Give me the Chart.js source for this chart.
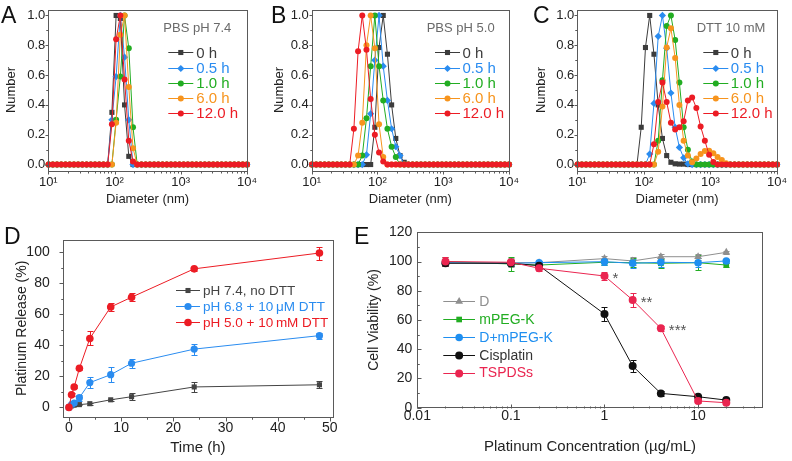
<!DOCTYPE html>
<html>
<head>
<meta charset="utf-8">
<script src="https://cdn.jsdelivr.net/npm/chart.js@4.4.1/dist/chart.umd.min.js"></script>
<style>
  html, body { margin: 0; padding: 0; background: #fff; }
  #fig { position: relative; width: 792px; height: 461px; overflow: hidden; font-family: "Liberation Sans", Arial, sans-serif; }
  canvas { position: absolute; }
  .tag { position: absolute; font-size: 23px; line-height: 1; color: #111; }
</style>
</head>
<body>
<div id="fig">
  <canvas id="cA" width="262" height="215" style="left:0;top:0"></canvas>
  <canvas id="cB" width="262" height="215" style="left:262px;top:0"></canvas>
  <canvas id="cC" width="268" height="215" style="left:524px;top:0"></canvas>
  <canvas id="cD" width="352" height="241" style="left:0;top:220px"></canvas>
  <canvas id="cE" width="440" height="241" style="left:352px;top:220px"></canvas>
  <div class="tag" style="left:1px;top:4px">A</div>
  <div class="tag" style="left:271px;top:4px">B</div>
  <div class="tag" style="left:533px;top:4px">C</div>
  <div class="tag" style="left:4px;top:225px">D</div>
  <div class="tag" style="left:354px;top:225px">E</div>
</div>
<script>
const colors = {
  h0: "#3c3c3c",
  h05: "#2a8cf0",
  h1: "#22ad22",
  h6: "#f7941d",
  h12: "#ec1c24",
  frame: "#5a5a5a",
  text: "#222222",
  note: "#6a6a6a",
  gray: "#8f8f8f",
  black: "#111111",
  pink: "#ea2550"
};

// DLS size bins (nm)
const diameters = [
  10.10, 11.70, 13.54, 15.69, 18.17, 21.04, 24.36, 28.21, 32.67, 37.84,
  43.82, 50.75, 58.77, 68.06, 78.82, 91.28, 105.7, 122.4, 141.8, 164.2,
  190.1, 220.2, 255.0, 295.3, 342.0, 396.1, 458.7, 531.2, 615.1, 712.4,
  825.0, 955.4, 1106, 1281, 1484, 1718, 1990, 2305, 2669, 3091,
  3580, 4145, 4801, 5560, 6439, 7456, 8635, 10000
];
const timeLabels = ["0 h", "0.5 h", "1.0 h", "6.0 h", "12.0 h"];
const numberTicks = [0, 0.2, 0.4, 0.6, 0.8, 1.0];
const numberTickLabels = ["0.0", "0.2", "0.4", "0.6", "0.8", "1.0"];
const diameterTicks = [10, 100, 1000, 10000];
const diameterTickLabels = ["10¹", "10²", "10³", "10⁴"];

// A - PBS pH 7.4
const a0h = [
  0, 0, 0, 0, 0, 0, 0, 0, 0, 0,
  0, 0, 0, 0, 0, 0.35, 1.0, 0.98, 0.40, 0.055,
  0, 0, 0, 0, 0, 0, 0, 0, 0, 0,
  0, 0, 0, 0, 0, 0, 0, 0, 0, 0,
  0, 0, 0, 0, 0, 0, 0, 0
];
const a05h = [
  0, 0, 0, 0, 0, 0, 0, 0, 0, 0,
  0, 0, 0, 0, 0, 0.30, 0.59, 1.0, 0.72, 0.30,
  0, 0, 0, 0, 0, 0, 0, 0, 0, 0,
  0, 0, 0, 0, 0, 0, 0, 0, 0, 0,
  0, 0, 0, 0, 0, 0, 0, 0
];
const a1h = [
  0, 0, 0, 0, 0, 0, 0, 0, 0, 0,
  0, 0, 0, 0, 0, 0, 0.30, 0.59, 1.0, 0.78,
  0.25, 0, 0, 0, 0, 0, 0, 0, 0, 0,
  0, 0, 0, 0, 0, 0, 0, 0, 0, 0,
  0, 0, 0, 0, 0, 0, 0, 0
];
const a6h = [
  0, 0, 0, 0, 0, 0, 0, 0, 0, 0,
  0, 0, 0, 0, 0, 0, 0.28, 0.87, 1.0, 0.52,
  0.11, 0, 0, 0, 0, 0, 0, 0, 0, 0,
  0, 0, 0, 0, 0, 0, 0, 0, 0, 0,
  0, 0, 0, 0, 0, 0, 0, 0
];
const a12h = [
  0, 0, 0, 0, 0, 0, 0, 0, 0, 0,
  0, 0, 0, 0, 0, 0.27, 0.84, 1.0, 0.57, 0.16,
  0.02, 0, 0, 0, 0, 0, 0, 0, 0, 0,
  0, 0, 0, 0, 0, 0, 0, 0, 0, 0,
  0, 0, 0, 0, 0, 0, 0, 0
];

// B - PBS pH 5.0
const b0h = [
  0, 0, 0, 0, 0, 0, 0, 0, 0, 0,
  0, 0, 0, 0, 0, 0.25, 0.785, 1.0, 0.74, 0.40,
  0.175, 0.06, 0.015, 0, 0, 0, 0, 0, 0, 0,
  0, 0, 0, 0, 0, 0, 0, 0, 0, 0,
  0, 0, 0, 0, 0, 0, 0, 0
];
const b05h = [
  0, 0, 0, 0, 0, 0, 0, 0, 0, 0,
  0, 0, 0, 0.065, 0.34, 0.70, 1.0, 0.66, 0.43, 0.24,
  0.12, 0.06, 0, 0, 0, 0, 0, 0, 0, 0,
  0, 0, 0, 0, 0, 0, 0, 0, 0, 0,
  0, 0, 0, 0, 0, 0, 0, 0
];
const b1h = [
  0, 0, 0, 0, 0, 0, 0, 0, 0, 0,
  0, 0, 0.06, 0.31, 0.66, 1.0, 0.66, 0.43, 0.24, 0.12,
  0.05, 0, 0, 0, 0, 0, 0, 0, 0, 0,
  0, 0, 0, 0, 0, 0, 0, 0, 0, 0,
  0, 0, 0, 0, 0, 0, 0, 0
];
const b6h = [
  0, 0, 0, 0, 0, 0, 0, 0, 0, 0,
  0, 0.06, 0.28, 0.80, 1.0, 0.78, 0.27, 0.05, 0, 0,
  0, 0, 0, 0, 0, 0, 0, 0, 0, 0,
  0, 0, 0, 0, 0, 0, 0, 0, 0, 0,
  0, 0, 0, 0, 0, 0, 0, 0
];
const b12h = [
  0, 0, 0, 0, 0, 0, 0, 0, 0, 0,
  0.24, 0.76, 1.0, 0.77, 0.44, 0.20, 0.08, 0.02, 0, 0,
  0, 0, 0, 0, 0, 0, 0, 0, 0, 0,
  0, 0, 0, 0, 0, 0, 0, 0, 0, 0,
  0, 0, 0, 0, 0, 0, 0, 0
];

// C - DTT 10 mM
const c0h = [
  0, 0, 0, 0, 0, 0, 0, 0, 0, 0,
  0, 0, 0, 0, 0, 0.25, 0.785, 1.0, 0.74, 0.40,
  0.175, 0.06, 0.015, 0.005, 0.003, 0.003, 0, 0, 0, 0,
  0, 0, 0, 0, 0, 0, 0, 0, 0, 0,
  0, 0, 0, 0, 0, 0, 0, 0
];
const c05h = [
  0, 0, 0, 0, 0, 0, 0, 0, 0, 0,
  0, 0, 0, 0, 0, 0, 0, 0.07, 0.41, 0.86,
  1.0, 0.78, 0.48, 0.25, 0.115, 0.045, 0.005, 0, 0, 0,
  0, 0, 0, 0, 0, 0, 0, 0, 0, 0,
  0, 0, 0, 0, 0, 0, 0, 0
];
const c1h = [
  0, 0, 0, 0, 0, 0, 0, 0, 0, 0,
  0, 0, 0, 0, 0, 0, 0, 0, 0, 0.16,
  0.565, 0.93, 1.0, 0.835, 0.55, 0.25, 0.10, 0.02, 0, 0,
  0, 0, 0, 0, 0, 0, 0, 0, 0, 0,
  0, 0, 0, 0, 0, 0, 0, 0
];
const c6h = [
  0, 0, 0, 0, 0, 0, 0, 0, 0, 0,
  0, 0, 0, 0, 0, 0, 0, 0, 0, 0.085,
  0.39, 0.785, 0.915, 0.715, 0.40, 0.16, 0.06, 0.015, 0.04, 0.07,
  0.09, 0.093, 0.075, 0.05, 0.03, 0.008, 0, 0, 0, 0,
  0, 0, 0, 0, 0, 0, 0, 0
];
const c12h = [
  0, 0, 0, 0, 0, 0, 0, 0, 0, 0,
  0, 0, 0, 0, 0, 0, 0, 0, 0.136, 0.42,
  0.55, 0.42, 0.28, 0.235, 0.25, 0.29, 0.43, 0.45, 0.38, 0.255,
  0.16, 0.065, 0.017, 0, 0, 0, 0, 0, 0, 0,
  0, 0, 0, 0, 0, 0, 0, 0
];

// D - platinum release
const times = [0, 0.5, 1, 2, 4, 8, 12, 24, 48];
const release74 = [0, 1.0, 1.4, 1.8, 2.4, 4.9, 6.9, 13.2, 14.6];
const release74Err = [0, 0.3, 0.4, 0.5, 0.6, 0.8, 2.2, 3.2, 2.2];
const release68 = [0, 1.8, 2.8, 6.3, 16.0, 21.1, 28.5, 37.6, 46.3];
const release68Err = [0, 0.5, 1.0, 2.0, 3.5, 4.8, 3.0, 3.5, 2.0];
const release50 = [0, 8.1, 13.2, 25.2, 44.5, 64.8, 71.1, 89.4, 99.6];
const release50Err = [0, 1.0, 1.0, 1.0, 4.5, 2.5, 2.5, 1.5, 4.2];
const timeTicks = [0, 10, 20, 30, 40, 50];
const releaseTicks = [0, 20, 40, 60, 80, 100];

// E - cell viability
const concentrations = [0.02, 0.1, 0.2, 1, 2, 4, 10, 20];
const viaD = [99.2, 99.2, 99.2, 102, 100.4, 103.3, 103.3, 106.3];
const viaDErr = [2.5, 3, 1, 1.5, 3, 2, 2, 1];
const viaMpeg = [100, 98.3, 97.6, 99.5, 99.2, 98.8, 99.2, 97.6];
const viaMpegErr = [3, 5, 1.5, 2, 3, 3, 5, 1.5];
const viaDMpeg = [99.2, 98.8, 99.2, 99.9, 98.8, 99.5, 99.2, 100.4];
const viaDMpegErr = [2, 2, 1.5, 2, 3, 3, 3, 1.5];
const viaCis = [98.8, 98.8, 97.2, 64.1, 28.5, 9.8, 7.5, 5.2];
const viaCisErr = [2, 2, 2, 4.5, 4, 1.5, 1.5, 1.5];
const viaTsp = [100, 99.5, 95.4, 90.1, 73.7, 54.3, 4.6, 3.4];
const viaTspErr = [3, 2, 2, 2.5, 5, 1.5, 1.5, 1];
const concTicks = [0.01, 0.1, 1, 10];
const concTickLabels = ["0.01", "0.1", "1", "10"];
const viabilityTicks = [0, 20, 40, 60, 80, 100, 120];

Chart.defaults.font.family = '"Liberation Sans", Arial, sans-serif';
Chart.defaults.color = colors.text;

function marker(ctx, style, x, y, r) {
  ctx.beginPath();
  if (style === "rect") {
    const s = r * Math.SQRT1_2;
    ctx.rect(x - s, y - s, 2 * s, 2 * s);
  } else if (style === "rectRot") {
    ctx.moveTo(x, y - r); ctx.lineTo(x + r, y); ctx.lineTo(x, y + r); ctx.lineTo(x - r, y);
    ctx.closePath();
  } else if (style === "triangle") {
    ctx.moveTo(x, y - r); ctx.lineTo(x + r * 0.87, y + r * 0.5); ctx.lineTo(x - r * 0.87, y + r * 0.5);
    ctx.closePath();
  } else {
    ctx.arc(x, y, r, 0, Math.PI * 2);
  }
  ctx.fill();
}

// frame around plot area
const boxPlugin = {
  id: "box",
  afterDraw(chart) {
    const { ctx, chartArea: a } = chart;
    ctx.save();
    ctx.strokeStyle = colors.frame;
    ctx.lineWidth = 1;
    ctx.strokeRect(Math.round(a.left) + 0.5, Math.round(a.top) + 0.5,
      Math.round(a.right - a.left), Math.round(a.bottom - a.top));
    ctx.restore();
  }
};

// major + minor tick marks (outward unless inward is set)
const tickPlugin = {
  id: "tickMarks",
  afterDraw(chart, args, opts) {
    const { ctx, chartArea: a } = chart;
    ctx.save();
    ctx.strokeStyle = colors.frame;
    ctx.lineWidth = 1;
    ["x", "y"].forEach(key => {
      const o = opts[key];
      if (!o) return;
      const s = chart.scales[key];
      const sign = o.inward ? -1 : 1;
      const draw = (v, len) => {
        if (v < s.min || v > s.max) return;
        const p = Math.round(s.getPixelForValue(v)) + 0.5;
        ctx.beginPath();
        if (key === "x") {
          const b = Math.round(a.bottom) + 0.5;
          ctx.moveTo(p, b); ctx.lineTo(p, b + sign * len);
        } else {
          const l = Math.round(a.left) + 0.5;
          ctx.moveTo(l, p); ctx.lineTo(l - sign * len, p);
        }
        ctx.stroke();
      };
      const minor = [];
      if (o.log) {
        o.major.forEach(m => { for (let k = 2; k < 10; k++) minor.push(m * k); });
      } else {
        const step = o.major[1] - o.major[0];
        o.major.forEach(m => minor.push(m - step / 2, m + step / 2));
      }
      minor.forEach(v => draw(v, o.minorLen));
      o.major.forEach(v => draw(v, o.len));
    });
    ctx.restore();
  }
};

// vertical error bars, drawn below the markers
const errorBarPlugin = {
  id: "errorBars",
  beforeDatasetsDraw(chart) {
    const { ctx } = chart;
    const ys = chart.scales.y;
    chart.data.datasets.forEach((ds, i) => {
      if (!ds.errors) return;
      const meta = chart.getDatasetMeta(i);
      ctx.save();
      ctx.strokeStyle = ds.borderColor;
      ctx.lineWidth = 1;
      meta.data.forEach((pt, j) => {
        const e = ds.errors[j];
        if (!e) return;
        const v = ds.data[j].y;
        const top = Math.round(ys.getPixelForValue(v + e)) + 0.5;
        const bot = Math.round(ys.getPixelForValue(v - e)) + 0.5;
        const x = Math.round(pt.x) + 0.5;
        ctx.beginPath();
        ctx.moveTo(x, top); ctx.lineTo(x, bot);
        ctx.moveTo(x - 3, top); ctx.lineTo(x + 3, top);
        ctx.moveTo(x - 3, bot); ctx.lineTo(x + 3, bot);
        ctx.stroke();
      });
      ctx.restore();
    });
  }
};

// legend drawn inside the plot area
const insideLegend = {
  id: "insideLegend",
  afterDraw(chart, args, o) {
    if (o.x == null) return;
    const { ctx, chartArea: a } = chart;
    ctx.save();
    ctx.font = o.size + 'px "Liberation Sans", Arial, sans-serif';
    ctx.textBaseline = "middle";
    ctx.textAlign = "left";
    chart.data.datasets.forEach((ds, i) => {
      const y = a.top + o.y + i * o.step;
      const x0 = a.left + o.x;
      ctx.strokeStyle = ds.borderColor;
      ctx.lineWidth = 1;
      ctx.beginPath();
      ctx.moveTo(x0, Math.round(y) + 0.5);
      ctx.lineTo(x0 + o.len, Math.round(y) + 0.5);
      ctx.stroke();
      ctx.fillStyle = ds.pointBackgroundColor;
      marker(ctx, ds.pointStyle, x0 + o.len / 2, Math.round(y) + 0.5, ds.pointRadius);
      ctx.fillStyle = ds.textColor || ds.borderColor;
      ctx.fillText(ds.label, x0 + o.len + o.gap, y + 1);
    });
    ctx.restore();
  }
};

// free texts: panel notes and significance stars
const notesPlugin = {
  id: "notes",
  afterDraw(chart, args, o) {
    if (!o.items) return;
    const { ctx, chartArea: a } = chart;
    ctx.save();
    o.items.forEach(n => {
      ctx.font = n.size + 'px "Liberation Sans", Arial, sans-serif';
      ctx.fillStyle = n.color;
      ctx.textAlign = "left";
      ctx.textBaseline = "alphabetic";
      let x = a.left + n.x, y = a.top + n.y;
      if (n.dataset != null) {
        const pt = chart.getDatasetMeta(n.dataset).data[n.index];
        x = pt.x + n.dx;
        y = pt.y + n.dy;
      }
      ctx.fillText(n.text, x, y);
    });
    ctx.restore();
  }
};

Chart.register(boxPlugin, tickPlugin, errorBarPlugin, insideLegend, notesPlugin);

function axis(o) {
  return {
    type: o.type || "linear",
    min: o.min,
    max: o.max,
    afterBuildTicks: s => { s.ticks = o.ticks.map(v => ({ value: v })); },
    afterFit: s => {
      if (o.width != null) s.width = o.width;
      if (o.height != null) s.height = o.height;
    },
    grid: { display: false, drawTicks: false },
    border: { display: false },
    ticks: {
      autoSkip: false, maxRotation: 0, padding: o.tickPad,
      color: colors.text, font: { size: o.tickSize, lineHeight: 1 },
      callback: (v, i) => o.labels[i]
    },
    title: {
      display: true, text: o.title, color: colors.text,
      font: { size: o.titleSize }, padding: o.titlePad
    }
  };
}

function series(label, xs, ys, color, style, radius, extra) {
  return Object.assign({
    label,
    data: xs.map((x, i) => ({ x, y: ys[i] })),
    borderColor: color,
    backgroundColor: color,
    pointBackgroundColor: color,
    pointBorderWidth: 0,
    pointStyle: style,
    pointRadius: radius,
    pointHoverRadius: radius,
    borderWidth: 1,
    tension: 0,
    fill: false,
    clip: false
  }, extra || {});
}

const timeColors = [colors.h0, colors.h05, colors.h1, colors.h6, colors.h12];
const timeStyles = ["rect", "rectRot", "circle", "circle", "circle"];
const timeRadii = [3.6, 3.6, 3, 3, 3];

const dlsPanels = [
  { id: "cA", sets: [a0h, a05h, a1h, a6h, a12h], note: "PBS pH 7.4", noteX: 115, legendX: 120, gap: 3, pad: { left: 0, right: 12 }, yWidth: 48.3 },
  { id: "cB", sets: [b0h, b05h, b1h, b6h, b12h], note: "PBS pH 5.0", noteX: 115, legendX: 123.3, gap: 2.5, pad: { left: 6, right: 10.7 }, yWidth: 43.7 },
  { id: "cC", sets: [c0h, c05h, c1h, c6h, c12h], note: "DTT 10 mM", noteX: 119.4, legendX: 126, gap: 2.5, pad: { left: 6, right: 12.7 }, yWidth: 47.3 }
];

dlsPanels.forEach(p => {
  new Chart(document.getElementById(p.id), {
    type: "line",
    data: {
      datasets: p.sets.map((ys, i) =>
        series(timeLabels[i], diameters, ys, timeColors[i], timeStyles[i], timeRadii[i], { order: 5 - i }))
    },
    options: {
      responsive: false, animation: false, events: [],
      layout: { padding: { left: p.pad.left, right: p.pad.right, top: 5, bottom: 0 } },
      scales: {
        x: axis({ type: "logarithmic", min: 10, max: 10000, ticks: diameterTicks, labels: diameterTickLabels,
          height: 44.5, tickPad: 5, tickSize: 13, title: "Diameter (nm)", titleSize: 13, titlePad: { top: 0, bottom: 8 } }),
        y: axis({ min: -0.04, max: 1.04, ticks: numberTicks, labels: numberTickLabels,
          width: p.yWidth, tickPad: 3, tickSize: 13, title: "Number", titleSize: 13, titlePad: { top: 4, bottom: 0 } })
      },
      plugins: {
        legend: { display: false },
        tooltip: { enabled: false },
        tickMarks: {
          x: { major: diameterTicks, log: true, len: 3, minorLen: 2 },
          y: { major: numberTicks, len: 3, minorLen: 2 }
        },
        insideLegend: { x: p.legendX, y: 42.9, step: 15.15, len: 25, gap: p.gap, size: 15 },
        notes: { items: [{ text: p.note, x: p.noteX, y: 22.3, size: 13, color: colors.note }] }
      }
    }
  });
});

// D
new Chart(document.getElementById("cD"), {
  type: "line",
  data: {
    datasets: [
      series("pH 7.4, no DTT", times, release74, "#444444", "rect", 3.6, { errors: release74Err, order: 3 }),
      series("pH 6.8 + 10\u2009\u03bcM DTT", times, release68, colors.h05, "circle", 3.6, { errors: release68Err, order: 2 }),
      series("pH 5.0 + 10\u2009mM DTT", times, release50, colors.h12, "circle", 3.8, { errors: release50Err, order: 1 })
    ]
  },
  options: {
    responsive: false, animation: false, events: [],
    layout: { padding: { left: 10, right: 19, top: 10, bottom: 0 } },
    scales: {
      x: axis({ min: -1.2, max: 50.6, ticks: timeTicks, labels: timeTicks.map(String),
        height: 44.3, tickPad: 4, tickSize: 14, title: "Time (h)", titleSize: 15, titlePad: { top: 0, bottom: 4.5 } }),
      y: axis({ min: -6, max: 108, ticks: releaseTicks, labels: releaseTicks.map(String),
        width: 52.7, tickPad: 13, tickSize: 14, title: "Platinum Release (%)", titleSize: 14, titlePad: { top: 4, bottom: 0 } })
    },
    plugins: {
      legend: { display: false },
      tooltip: { enabled: false },
      tickMarks: {
        x: { major: timeTicks, len: 4, minorLen: 2 },
        y: { major: releaseTicks, len: 4, minorLen: 2 }
      },
      insideLegend: { x: 113.3, y: 50, step: 16.2, len: 24, gap: 3, size: 13.5 }
    }
  }
});

// E
new Chart(document.getElementById("cE"), {
  type: "line",
  data: {
    datasets: [
      series("D", concentrations, viaD, colors.gray, "triangle", 4.5, { errors: viaDErr, order: 5 }),
      series("mPEG-K", concentrations, viaMpeg, colors.h1, "rect", 4, { errors: viaMpegErr, order: 4 }),
      series("D+mPEG-K", concentrations, viaDMpeg, "#1f8ff0", "circle", 3.8, { errors: viaDMpegErr, order: 3 }),
      series("Cisplatin", concentrations, viaCis, colors.black, "circle", 4, { errors: viaCisErr, order: 2, textColor: "#333333" }),
      series("TSPDSs", concentrations, viaTsp, colors.pink, "circle", 4, { errors: viaTspErr, order: 1 })
    ]
  },
  options: {
    responsive: false, animation: false, events: [],
    layout: { padding: { left: 10, right: 29.3, top: 12.3, bottom: 0 } },
    scales: {
      x: axis({ type: "logarithmic", min: 0.01, max: 49, ticks: concTicks, labels: concTickLabels,
        height: 53.3, tickPad: 1, tickSize: 14, title: "Platinum Concentration (\u00b5g/mL)", titleSize: 15, titlePad: { top: 0, bottom: 5.3 } }),
      y: axis({ min: 0, max: 120, ticks: viabilityTicks, labels: viabilityTicks.map(String),
        width: 55.3, tickPad: 5, tickSize: 14, title: "Cell Viability (%)", titleSize: 14, titlePad: { top: 4, bottom: 0 } })
    },
    plugins: {
      legend: { display: false },
      tooltip: { enabled: false },
      tickMarks: {
        x: { major: concTicks, log: true, len: 4, minorLen: 2, inward: true },
        y: { major: viabilityTicks, len: 4, minorLen: 2, inward: true }
      },
      insideLegend: { x: 26, y: 68.7, step: 17.9, len: 31.7, gap: 4.3, size: 14 },
      notes: {
        items: [
          { text: "*", dataset: 4, index: 3, dx: 8, dy: 7, size: 15, color: "#555555" },
          { text: "**", dataset: 4, index: 4, dx: 8, dy: 7, size: 15, color: "#555555" },
          { text: "***", dataset: 4, index: 5, dx: 8, dy: 7, size: 15, color: "#555555" }
        ]
      }
    }
  }
});
</script>
</body>
</html>
